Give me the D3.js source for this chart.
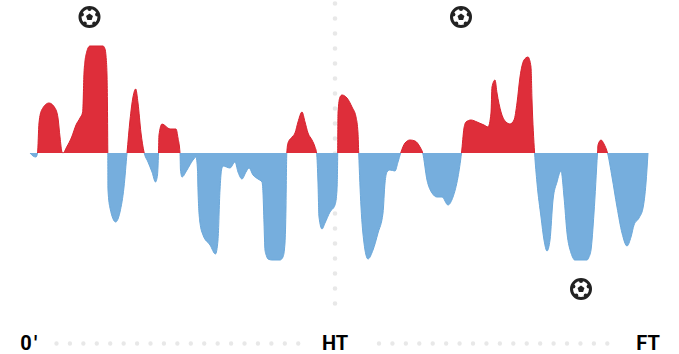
<!DOCTYPE html>
<html>
<head>
<meta charset="utf-8">
<script src="https://cdn.jsdelivr.net/npm/d3@7"></script>
<style>
html, body { margin: 0; padding: 0; background: #fff; overflow: hidden; }
svg { display: block; }
text { font-family: Roboto, sans-serif; font-weight: 700; fill: #000; }
</style>
</head>
<body>
<svg id="chart"></svg>
<script>
// match timeline, kickoff = 0, half time = 305, full time = 618
// each row of timeline lines up with the same row of momentum
const timeline = [
  0, 3, 6, 7.5,
  9, 11.7, 19, 25, 28, 30, 32, 33, 36.7, 41.7, 46, 50, 52.7, 54, 55, 56.7, 58, 60, 67, 73, 75, 76, 77, 77.8,
  78, 80, 85.7, 90, 94, 97,
  100, 103, 105.7, 108, 111, 114,
  118, 122, 125.5, 127.5, 128.5,
  129, 132, 140, 146, 148, 150,
  150.5, 152, 157, 163, 166, 167.5, 168, 170, 173, 180, 185.5, 188, 190, 191.5, 193, 200, 205, 208, 212, 216, 219, 223, 228, 232, 233, 234, 235, 236.5, 238, 242, 250, 253, 255, 256, 256.8,
  258, 262, 265, 268, 272, 275, 278, 282, 285, 286.6,
  288, 289, 292, 295, 300, 305, 307, 307.7,
  308, 310, 312, 317, 322, 326, 328, 328.7,
  331, 334, 338, 343, 348, 353, 355, 357, 360, 365, 368, 370.7,
  375, 380, 385, 390, 392.7,
  397, 402, 407, 412, 418, 423, 428, 431.5,
  434, 436, 441, 447, 454, 458, 461, 462, 465, 467, 471, 476, 480, 484, 487, 490, 494, 498, 501, 502, 504.6,
  507, 511, 514, 517, 520, 523, 527, 531, 534, 537, 541, 543, 544.5, 557, 559, 561, 564, 567.5,
  568, 571, 574, 577.5,
  582, 587, 592, 597, 601, 604, 609, 613, 616, 618
];
const momentum = [
  0, -3, -4, 0,
  30, 43, 50, 45, 35, 16, 1, 0, 6, 16, 28, 35, 41, 80, 92, 101, 105, 107, 107, 107, 104, 97, 78, 0,
  -37, -55, -69, -59, -34, 0,
  33, 56, 64, 50, 20, 1,
  -9, -19, -29, -22, 0,
  18, 29, 24, 24, 15, 0,
  -17, -24, -17, -7, -4, -17, -37, -70, -82, -92, -101, -87, -37, -17, -13, -15, -9, -19, -26, -19, -15, -22, -26, -29, -40, -70, -97, -103, -106, -107, -107, -104, -90, -54, 0,
  10, 16, 20, 31, 41, 31, 20, 13, 6, 0,
  -30, -64, -76, -70, -59, -52, -37, 0,
  40, 56, 58, 55, 46, 36, 20, 0,
  -54, -90, -106, -97, -80, -60, -30, -19, -17, -18, -9, 0,
  10, 13, 12, 6, 0,
  -27, -40, -44, -44, -52, -44, -24, 0,
  25, 31, 33, 31, 28, 26, 40, 66, 73, 60, 41, 31, 29, 33, 50, 76, 93, 96, 86, 53, 0,
  -30, -64, -87, -98, -87, -47, -29, -18, -44, -80, -100, -105, -107, -107, -104, -97, -60, 0,
  8, 13, 9, 0,
  -24, -54, -80, -93, -84, -72, -65, -55, -30, 0
];
const goalTimes = [59.5, 431, 551];
const goalMomentum = [136, 136, -136];
const periodLabels = ["0'", "HT", "FT"];
const periodTimes = [0, 305, 618];

const width = 679;
const height = 354;

const svg = d3.select('#chart').attr('width', width).attr('height', height);

const x = d3.scaleLinear().domain([0, 618]).range([30, 648]);
const y = d3.scaleLinear().domain([107, -107]).range([46, 260]);

const points = timeline.map((t, i) => ({ t: t, v: momentum[i] }));

// dotted guides
const guideColor = '#e8e8e8';
svg.append('line')
  .attr('x1', x(305)).attr('x2', x(305))
  .attr('y1', 3.5).attr('y2', 304)
  .attr('stroke', guideColor).attr('stroke-width', 4.6)
  .attr('stroke-linecap', 'round').attr('stroke-dasharray', '0 15');

[[56.5, 299], [379, 619]].forEach(d => {
  svg.append('line')
    .attr('x1', d[0]).attr('x2', d[1])
    .attr('y1', 343.5).attr('y2', 343.5)
    .attr('stroke', guideColor).attr('stroke-width', 4.4)
    .attr('stroke-linecap', 'round').attr('stroke-dasharray', '0 13.43');
});

// one area per side of the zero line, cut with a clip
const defs = svg.append('defs');
defs.append('clipPath').attr('id', 'above').append('rect')
  .attr('x', 0).attr('y', 0).attr('width', width).attr('height', y(0));
defs.append('clipPath').attr('id', 'below').append('rect')
  .attr('x', 0).attr('y', y(0)).attr('width', width).attr('height', height - y(0));

const area = d3.area().x(d => x(d.t)).y0(y(0)).y1(d => y(d.v)).curve(d3.curveMonotoneX);
const line = d3.line().x(d => x(d.t)).y(d => y(d.v)).curve(d3.curveMonotoneX);

[['above', '#de2e3a', '#d8222e'], ['below', '#76aedd', '#6ba8da']].forEach(s => {
  const g = svg.append('g').attr('clip-path', 'url(#' + s[0] + ')');
  g.append('path').attr('d', area(points)).attr('fill', s[1]);
  g.append('path').attr('d', line(points)).attr('fill', 'none').attr('stroke', s[2]).attr('stroke-width', 1);
});

// goal balls
const pentagon = r => d3.range(5).map(i => {
  const a = -Math.PI / 2 + i * 2 * Math.PI / 5;
  return [r * Math.cos(a), r * Math.sin(a)];
});
const goals = svg.selectAll('.goal')
  .data(goalTimes.map((t, i) => ({ t: t, v: goalMomentum[i] })))
  .enter().append('g')
  .attr('class', 'goal')
  .attr('transform', d => 'translate(' + x(d.t) + ',' + y(d.v) + ')');
goals.append('circle').attr('r', 9.5).attr('fill', '#fff').attr('stroke', '#222').attr('stroke-width', 3);
goals.append('polygon').attr('points', pentagon(3.6).map(p => p.join(',')).join(' ')).attr('fill', '#222');
goals.each(function () {
  const g = d3.select(this);
  pentagon(1).forEach(p => {
    g.append('circle').attr('cx', p[0] * 8).attr('cy', p[1] * 8).attr('r', 2).attr('fill', '#222');
  });
});

// period labels
svg.selectAll('.period')
  .data(periodLabels)
  .enter().append('text')
  .attr('class', 'period')
  .attr('x', (d, i) => x(periodTimes[i]))
  .attr('y', 349.5)
  .attr('text-anchor', 'middle')
  .attr('font-size', 20)
  .attr('letter-spacing', (d, i) => i === 0 ? 2.5 : 0)
  .text(d => d);
</script>
</body>
</html>
